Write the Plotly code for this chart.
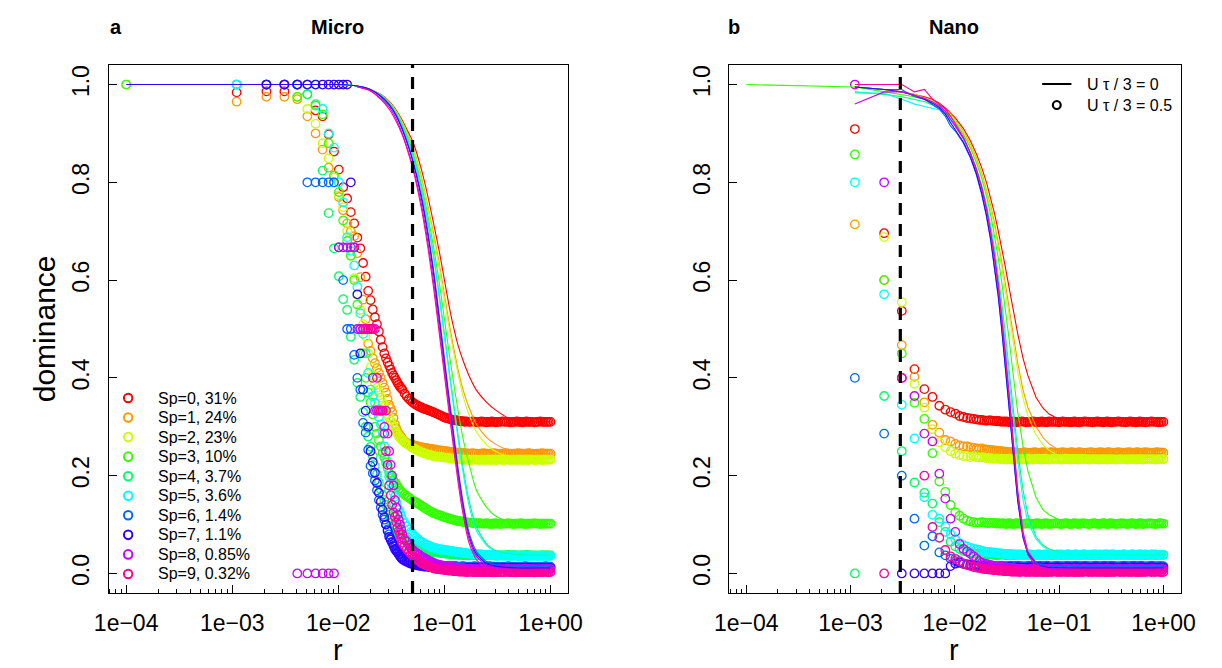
import plotly.graph_objects as go

W, H = 1222, 668

COLORS = ["#FF0000", "#FF9900", "#CCFF00", "#33FF00", "#00FF66",
          "#00FFFF", "#0066FF", "#3300FF", "#CC00FF", "#FF0099"]
LEGEND_LABELS = ["Sp=0, 31%", "Sp=1, 24%", "Sp=2, 23%", "Sp=3, 10%", "Sp=4, 3.7%",
                 "Sp=5, 3.6%", "Sp=6, 1.4%", "Sp=7, 1.1%", "Sp=8, 0.85%", "Sp=9, 0.32%"]
XTICK_VALS = [1e-4, 1e-3, 1e-2, 1e-1, 1.0]
XTICK_TEXT = ["1e\u221204", "1e\u221203", "1e\u221202", "1e\u221201", "1e+00"]
YTICK_VALS = [0.0, 0.2, 0.4, 0.6, 0.8, 1.0]
YTICK_TEXT = ["0.0", "0.2", "0.4", "0.6", "0.8", "1.0"]
THRESH_MICRO = 0.05
THRESH_NANO = 0.003

# r values of the U*tau/3 = 0.5 runs (circles), 132 values
R_POINTS = [0.0001, 0.0011, 0.0021, 0.0031, 0.0041, 0.0051, 0.0061, 0.0071, 0.0081, 0.0091,
            0.0101, 0.0111, 0.0121, 0.0131, 0.0141, 0.0151, 0.0161, 0.0171, 0.0181, 0.0191,
            0.0201, 0.0211, 0.0221, 0.0231, 0.0241, 0.0251, 0.0261, 0.0271, 0.0281, 0.0291,
            0.0301, 0.0311, 0.0321, 0.0331, 0.0341, 0.0351, 0.0361, 0.0371, 0.0381, 0.0391,
            0.0401, 0.0421, 0.0441, 0.0461, 0.0481, 0.0501, 0.0521, 0.0541, 0.0561, 0.0581,
            0.0601, 0.0621, 0.0641, 0.0661, 0.0681, 0.0701, 0.0721, 0.0741, 0.0761, 0.0781,
            0.0801, 0.0841, 0.0881, 0.0921, 0.0961, 0.1001, 0.1041, 0.1081, 0.1121, 0.1161,
            0.1201, 0.1241, 0.1281, 0.1321, 0.1361, 0.1401, 0.1441, 0.1481, 0.1521, 0.1561,
            0.1601, 0.1681, 0.1761, 0.1841, 0.1921, 0.2001, 0.2081, 0.2161, 0.2241, 0.2321,
            0.2401, 0.2481, 0.2561, 0.2641, 0.2721, 0.2801, 0.2881, 0.2961, 0.3041, 0.3121,
            0.3201, 0.3361, 0.3521, 0.3681, 0.3841, 0.4001, 0.4161, 0.4321, 0.4481, 0.4641,
            0.4801, 0.4961, 0.5121, 0.5281, 0.5441, 0.5601, 0.5761, 0.5921, 0.6081, 0.6241,
            0.6401, 0.6721, 0.7041, 0.7361, 0.7681, 0.8001, 0.8321, 0.8641, 0.8961, 0.9281,
            0.9601, 0.9991]

# ---------------- Micro, circles (U tau/3 = 0.5) ----------------
MICRO_PTS_SP0 = [None, 0.984, 0.986, 0.986, 1.0, 1.0, 0.947, 0.935, 0.898, 0.863,
                 0.826, 0.79, 0.767, 0.739, 0.716, 0.687, 0.665, 0.635, 0.607, 0.578,
                 0.559, 0.54, 0.524, 0.51, 0.495, 0.478, 0.463, 0.45, 0.44, 0.432,
                 0.425, 0.417, 0.41, 0.405, 0.4, 0.395, 0.39, 0.386, 0.382, 0.379,
                 0.376, 0.368, 0.362, 0.357, 0.353, 0.35, 0.347, 0.345, 0.343, 0.341,
                 0.34, 0.338, 0.337, 0.336, 0.335, 0.334, 0.333, 0.332, 0.331, 0.33,
                 0.329, 0.327, 0.325, 0.323, 0.321, 0.319, 0.318, 0.317, 0.316, 0.315,
                 0.314, 0.314, 0.313, 0.313, 0.312, 0.312, 0.311, 0.311, 0.311, 0.31,
                 0.311, 0.31, 0.31, 0.311, 0.31, 0.309, 0.31, 0.31, 0.311, 0.31,
                 0.31, 0.309, 0.31, 0.31, 0.31, 0.311, 0.31, 0.31, 0.309, 0.31,
                 0.31, 0.31, 0.311, 0.31, 0.31, 0.31, 0.309, 0.31, 0.31, 0.31,
                 0.311, 0.31, 0.31, 0.31, 0.309, 0.31, 0.31, 0.311, 0.31, 0.31,
                 0.31, 0.31, 0.309, 0.31, 0.31, 0.311, 0.31, 0.31, 0.31, 0.31,
                 0.31, 0.31]
MICRO_PTS_SP1 = [None, 0.965, 0.975, 0.975, 0.97, 0.935, 0.9, 0.867, 0.83, 0.8,
                 0.77, 0.743, 0.716, 0.7, 0.69, 0.655, 0.606, 0.56, 0.52, 0.47,
                 0.455, 0.44, 0.43, 0.42, 0.41, 0.4, 0.39, 0.38, 0.37, 0.357,
                 0.345, 0.338, 0.33, 0.318, 0.305, 0.297, 0.29, 0.286, 0.283, 0.279,
                 0.275, 0.27, 0.267, 0.265, 0.264, 0.263, 0.262, 0.261, 0.26, 0.259,
                 0.258, 0.258, 0.257, 0.257, 0.256, 0.256, 0.255, 0.255, 0.254, 0.254,
                 0.253, 0.253, 0.252, 0.251, 0.251, 0.25, 0.25, 0.249, 0.249, 0.248,
                 0.248, 0.248, 0.247, 0.247, 0.247, 0.246, 0.246, 0.246, 0.246, 0.245,
                 0.246, 0.245, 0.245, 0.246, 0.245, 0.245, 0.244, 0.245, 0.245, 0.246,
                 0.245, 0.245, 0.245, 0.244, 0.245, 0.245, 0.246, 0.245, 0.245, 0.245,
                 0.244, 0.245, 0.245, 0.245, 0.246, 0.245, 0.245, 0.244, 0.245, 0.245,
                 0.245, 0.246, 0.245, 0.245, 0.245, 0.244, 0.245, 0.245, 0.245, 0.246,
                 0.245, 0.245, 0.244, 0.245, 0.245, 0.245, 0.246, 0.245, 0.245, 0.245,
                 0.245, 0.245]
MICRO_PTS_SP2 = [1.0, 1.0, 1.0, 1.0, 0.975, 0.95, 0.92, 0.88, 0.849, 0.81,
                 0.773, 0.749, 0.7, 0.65, 0.604, 0.57, 0.539, 0.51, 0.484, 0.45,
                 0.422, 0.405, 0.39, 0.38, 0.37, 0.36, 0.349, 0.341, 0.333, 0.326,
                 0.32, 0.312, 0.305, 0.3, 0.294, 0.289, 0.285, 0.281, 0.278, 0.275,
                 0.273, 0.268, 0.265, 0.262, 0.259, 0.257, 0.255, 0.253, 0.251, 0.25,
                 0.248, 0.247, 0.246, 0.245, 0.244, 0.243, 0.242, 0.242, 0.241, 0.24,
                 0.24, 0.239, 0.239, 0.238, 0.238, 0.237, 0.237, 0.236, 0.236, 0.235,
                 0.235, 0.235, 0.234, 0.234, 0.234, 0.234, 0.233, 0.233, 0.233, 0.233,
                 0.233, 0.233, 0.232, 0.233, 0.233, 0.233, 0.232, 0.233, 0.233, 0.233,
                 0.232, 0.233, 0.233, 0.233, 0.232, 0.233, 0.233, 0.233, 0.232, 0.233,
                 0.233, 0.233, 0.232, 0.233, 0.233, 0.233, 0.232, 0.233, 0.233, 0.233,
                 0.232, 0.233, 0.233, 0.233, 0.232, 0.233, 0.233, 0.233, 0.232, 0.233,
                 0.233, 0.233, 0.232, 0.233, 0.233, 0.233, 0.232, 0.233, 0.233, 0.233,
                 0.233, 0.233]
MICRO_PTS_SP3 = [1.0, 1.0, 1.0, 1.0, 0.975, 0.98, 0.957, 0.939, 0.88, 0.814,
                 0.78, 0.722, 0.68, 0.65, 0.6, 0.55, 0.5, 0.45, 0.4, 0.37,
                 0.35, 0.325, 0.3, 0.286, 0.273, 0.26, 0.247, 0.237, 0.227, 0.216,
                 0.206, 0.2, 0.195, 0.19, 0.186, 0.182, 0.178, 0.174, 0.17, 0.167,
                 0.165, 0.161, 0.158, 0.155, 0.152, 0.149, 0.147, 0.145, 0.143, 0.141,
                 0.139, 0.137, 0.135, 0.133, 0.131, 0.13, 0.128, 0.127, 0.125, 0.124,
                 0.123, 0.121, 0.12, 0.118, 0.117, 0.115, 0.114, 0.113, 0.112, 0.111,
                 0.11, 0.109, 0.108, 0.108, 0.107, 0.107, 0.106, 0.106, 0.105, 0.105,
                 0.105, 0.104, 0.104, 0.103, 0.103, 0.103, 0.102, 0.103, 0.102, 0.102,
                 0.102, 0.103, 0.102, 0.102, 0.101, 0.102, 0.102, 0.102, 0.103, 0.102,
                 0.102, 0.101, 0.102, 0.102, 0.102, 0.103, 0.102, 0.102, 0.101, 0.102,
                 0.102, 0.102, 0.102, 0.103, 0.102, 0.102, 0.101, 0.102, 0.102, 0.102,
                 0.102, 0.102, 0.103, 0.102, 0.102, 0.101, 0.102, 0.102, 0.102, 0.102,
                 0.102, 0.102]
MICRO_PTS_SP4 = [None, 1.0, 1.0, 1.0, 1.0, 0.98, 0.96, 0.824, 0.737, 0.665,
                 0.608, 0.561, 0.539, 0.484, 0.437, 0.39, 0.361, 0.33, 0.3, 0.28,
                 0.259, 0.24, 0.22, 0.203, 0.186, 0.172, 0.16, 0.15, 0.14, 0.13,
                 0.12, 0.112, 0.105, 0.1, 0.095, 0.09, 0.085, 0.081, 0.078, 0.075,
                 0.072, 0.068, 0.065, 0.062, 0.06, 0.058, 0.056, 0.054, 0.052, 0.051,
                 0.05, 0.049, 0.048, 0.047, 0.046, 0.046, 0.045, 0.045, 0.044, 0.044,
                 0.043, 0.043, 0.042, 0.042, 0.041, 0.041, 0.04, 0.04, 0.04, 0.039,
                 0.039, 0.039, 0.039, 0.038, 0.038, 0.038, 0.038, 0.038, 0.037, 0.038,
                 0.037, 0.037, 0.038, 0.037, 0.037, 0.037, 0.037, 0.037, 0.036, 0.037,
                 0.037, 0.037, 0.037, 0.038, 0.037, 0.037, 0.037, 0.037, 0.036, 0.037,
                 0.037, 0.037, 0.037, 0.037, 0.037, 0.038, 0.037, 0.037, 0.037, 0.037,
                 0.037, 0.036, 0.037, 0.037, 0.037, 0.037, 0.037, 0.038, 0.037, 0.037,
                 0.037, 0.037, 0.037, 0.037, 0.036, 0.037, 0.037, 0.037, 0.037, 0.037,
                 0.037, 0.037]
MICRO_PTS_SP5 = [None, 1.0, 1.0, 1.0, 1.0, 1.0, 1.0, 0.95, 0.9, 0.871,
                 0.8, 0.759, 0.688, 0.66, 0.63, 0.586, 0.532, 0.49, 0.45, 0.41,
                 0.376, 0.362, 0.349, 0.335, 0.32, 0.305, 0.288, 0.26, 0.233, 0.215,
                 0.198, 0.186, 0.175, 0.166, 0.157, 0.146, 0.135, 0.13, 0.124, 0.117,
                 0.11, 0.103, 0.096, 0.09, 0.085, 0.08, 0.076, 0.073, 0.07, 0.067,
                 0.065, 0.063, 0.061, 0.06, 0.058, 0.057, 0.056, 0.055, 0.054, 0.053,
                 0.052, 0.051, 0.05, 0.049, 0.049, 0.048, 0.047, 0.047, 0.046, 0.046,
                 0.045, 0.045, 0.044, 0.044, 0.043, 0.043, 0.043, 0.042, 0.042, 0.042,
                 0.041, 0.041, 0.04, 0.04, 0.04, 0.039, 0.039, 0.039, 0.039, 0.038,
                 0.038, 0.038, 0.038, 0.038, 0.037, 0.037, 0.037, 0.037, 0.037, 0.037,
                 0.036, 0.037, 0.036, 0.036, 0.037, 0.036, 0.036, 0.036, 0.036, 0.037,
                 0.036, 0.036, 0.036, 0.036, 0.036, 0.036, 0.036, 0.037, 0.036, 0.036,
                 0.036, 0.036, 0.036, 0.036, 0.036, 0.036, 0.036, 0.036, 0.036, 0.036,
                 0.036, 0.036]
MICRO_PTS_SP6 = [None, None, 1.0, 1.0, 1.0, 0.8, 0.8, 0.8, 0.8, 0.8,
                 0.667, 0.6, 0.5, 0.5, 0.447, 0.4, 0.376, 0.308, 0.288, 0.253,
                 0.22, 0.205, 0.19, 0.17, 0.15, 0.135, 0.12, 0.11, 0.1, 0.09,
                 0.08, 0.072, 0.065, 0.06, 0.055, 0.05, 0.045, 0.041, 0.038, 0.035,
                 0.033, 0.03, 0.028, 0.026, 0.025, 0.023, 0.022, 0.021, 0.02, 0.02,
                 0.019, 0.019, 0.018, 0.018, 0.018, 0.017, 0.017, 0.017, 0.017, 0.016,
                 0.016, 0.016, 0.016, 0.016, 0.015, 0.015, 0.015, 0.015, 0.015, 0.015,
                 0.015, 0.015, 0.015, 0.014, 0.014, 0.014, 0.014, 0.015, 0.014, 0.014,
                 0.014, 0.014, 0.014, 0.014, 0.015, 0.014, 0.014, 0.014, 0.013, 0.014,
                 0.014, 0.014, 0.014, 0.015, 0.014, 0.014, 0.014, 0.014, 0.013, 0.014,
                 0.014, 0.014, 0.014, 0.014, 0.014, 0.015, 0.014, 0.014, 0.014, 0.014,
                 0.013, 0.014, 0.014, 0.014, 0.014, 0.014, 0.015, 0.014, 0.014, 0.014,
                 0.014, 0.014, 0.014, 0.013, 0.014, 0.014, 0.014, 0.014, 0.015, 0.014,
                 0.014, 0.014]
MICRO_PTS_SP7 = [None, None, 1.0, 1.0, 1.0, 1.0, 1.0, 1.0, 1.0, 1.0,
                 1.0, 1.0, 1.0, 0.8, 0.667, 0.571, 0.45, 0.376, 0.333, 0.3,
                 0.25, 0.228, 0.206, 0.185, 0.165, 0.147, 0.13, 0.115, 0.1, 0.087,
                 0.075, 0.069, 0.063, 0.056, 0.05, 0.046, 0.043, 0.039, 0.035, 0.032,
                 0.029, 0.026, 0.024, 0.022, 0.02, 0.019, 0.018, 0.017, 0.016, 0.016,
                 0.015, 0.015, 0.014, 0.014, 0.014, 0.014, 0.013, 0.013, 0.013, 0.013,
                 0.013, 0.013, 0.012, 0.012, 0.012, 0.012, 0.012, 0.012, 0.012, 0.012,
                 0.012, 0.011, 0.011, 0.011, 0.011, 0.011, 0.011, 0.011, 0.011, 0.011,
                 0.011, 0.011, 0.011, 0.012, 0.011, 0.011, 0.011, 0.011, 0.01, 0.011,
                 0.011, 0.011, 0.011, 0.011, 0.011, 0.012, 0.011, 0.011, 0.011, 0.011,
                 0.01, 0.011, 0.011, 0.011, 0.011, 0.011, 0.012, 0.011, 0.011, 0.011,
                 0.011, 0.011, 0.01, 0.011, 0.011, 0.011, 0.011, 0.012, 0.011, 0.011,
                 0.011, 0.011, 0.011, 0.011, 0.01, 0.011, 0.011, 0.011, 0.011, 0.011,
                 0.011, 0.011]
MICRO_PTS_SP8 = [None, None, None, None, 0.0, 0.0, 0.0, 0.0, 0.0, 0.0,
                 0.667, 0.667, 0.667, 0.667, 0.667, 0.5, 0.5, 0.5, 0.5, 0.5,
                 0.5, 0.4, 0.333, 0.333, 0.333, 0.333, 0.333, 0.3, 0.333, 0.286,
                 0.25, 0.222, 0.2, 0.18, 0.15, 0.135, 0.12, 0.11, 0.1, 0.09,
                 0.08, 0.07, 0.065, 0.058, 0.053, 0.048, 0.045, 0.042, 0.04, 0.038,
                 0.035, 0.033, 0.032, 0.03, 0.028, 0.027, 0.025, 0.024, 0.023, 0.022,
                 0.021, 0.019, 0.018, 0.017, 0.016, 0.015, 0.015, 0.014, 0.014, 0.013,
                 0.013, 0.012, 0.012, 0.012, 0.011, 0.011, 0.011, 0.011, 0.01, 0.01,
                 0.01, 0.01, 0.01, 0.009, 0.009, 0.009, 0.009, 0.009, 0.009, 0.009,
                 0.009, 0.009, 0.009, 0.01, 0.009, 0.009, 0.009, 0.009, 0.008, 0.009,
                 0.009, 0.009, 0.009, 0.009, 0.009, 0.01, 0.009, 0.009, 0.009, 0.009,
                 0.008, 0.009, 0.009, 0.009, 0.009, 0.009, 0.01, 0.009, 0.009, 0.009,
                 0.009, 0.009, 0.009, 0.008, 0.009, 0.009, 0.009, 0.009, 0.01, 0.009,
                 0.009, 0.009]
MICRO_PTS_SP9 = [None, None, None, None, None, None, None, None, None, None,
                 None, None, None, None, None, None, None, 0.5, 0.5, 0.5,
                 0.5, 0.5, 0.5, 0.4, 0.333, 0.333, 0.333, 0.286, 0.25, 0.222,
                 0.18, 0.16, 0.14, 0.125, 0.116, 0.105, 0.094, 0.087, 0.08, 0.071,
                 0.063, 0.056, 0.05, 0.045, 0.04, 0.036, 0.033, 0.03, 0.027, 0.025,
                 0.022, 0.02, 0.019, 0.018, 0.016, 0.015, 0.014, 0.013, 0.012, 0.011,
                 0.01, 0.009, 0.009, 0.008, 0.008, 0.007, 0.007, 0.006, 0.006, 0.006,
                 0.005, 0.005, 0.005, 0.005, 0.004, 0.004, 0.004, 0.004, 0.004, 0.004,
                 0.003, 0.003, 0.004, 0.003, 0.003, 0.003, 0.003, 0.003, 0.003, 0.003,
                 0.003, 0.003, 0.004, 0.003, 0.003, 0.003, 0.002, 0.003, 0.003, 0.003,
                 0.003, 0.003, 0.003, 0.003, 0.004, 0.003, 0.003, 0.003, 0.003, 0.002,
                 0.003, 0.003, 0.003, 0.003, 0.003, 0.003, 0.004, 0.003, 0.003, 0.003,
                 0.003, 0.003, 0.002, 0.003, 0.003, 0.003, 0.003, 0.003, 0.004, 0.003,
                 0.003, 0.003]

# ---------------- Nano, circles (U tau/3 = 0.5) ----------------
NANO_PTS_SP0 = [None, 0.909, 0.696, 0.537, 0.418, 0.377, 0.361, 0.343, 0.335, 0.33,
                0.327, 0.322, 0.32, 0.318, 0.317, 0.316, 0.315, 0.314, 0.314, 0.313,
                0.312, 0.313, 0.313, 0.312, 0.312, 0.311, 0.312, 0.311, 0.31, 0.311,
                0.31, 0.311, 0.31, 0.31, 0.309, 0.31, 0.311, 0.31, 0.31, 0.309,
                0.31, 0.31, 0.311, 0.31, 0.309, 0.31, 0.31, 0.31, 0.311, 0.31,
                0.31, 0.309, 0.31, 0.31, 0.311, 0.31, 0.31, 0.31, 0.309, 0.31,
                0.311, 0.31, 0.31, 0.31, 0.31, 0.309, 0.31, 0.311, 0.31, 0.31,
                0.31, 0.31, 0.309, 0.31, 0.31, 0.311, 0.31, 0.31, 0.31, 0.309,
                0.31, 0.31, 0.311, 0.31, 0.31, 0.31, 0.309, 0.31, 0.31, 0.311,
                0.31, 0.31, 0.31, 0.309, 0.31, 0.31, 0.311, 0.31, 0.31, 0.31,
                0.309, 0.31, 0.31, 0.311, 0.31, 0.31, 0.31, 0.309, 0.31, 0.31,
                0.311, 0.31, 0.31, 0.31, 0.309, 0.31, 0.31, 0.311, 0.31, 0.31,
                0.31, 0.309, 0.31, 0.31, 0.311, 0.31, 0.31, 0.31, 0.309, 0.31,
                0.31, 0.31]
NANO_PTS_SP1 = [None, 0.714, 0.6, 0.467, 0.402, 0.35, 0.304, 0.288, 0.273, 0.27,
                0.265, 0.262, 0.26, 0.26, 0.258, 0.257, 0.256, 0.255, 0.256, 0.254,
                0.253, 0.253, 0.252, 0.252, 0.251, 0.251, 0.25, 0.25, 0.25, 0.249,
                0.249, 0.249, 0.248, 0.248, 0.248, 0.248, 0.247, 0.248, 0.247, 0.247,
                0.247, 0.246, 0.247, 0.248, 0.247, 0.247, 0.246, 0.247, 0.247, 0.248,
                0.247, 0.247, 0.246, 0.247, 0.247, 0.248, 0.247, 0.247, 0.246, 0.247,
                0.247, 0.248, 0.247, 0.247, 0.246, 0.247, 0.247, 0.248, 0.247, 0.247,
                0.246, 0.247, 0.247, 0.248, 0.247, 0.247, 0.246, 0.247, 0.247, 0.248,
                0.247, 0.247, 0.246, 0.247, 0.247, 0.248, 0.247, 0.247, 0.246, 0.247,
                0.247, 0.248, 0.247, 0.247, 0.246, 0.247, 0.247, 0.248, 0.247, 0.247,
                0.246, 0.247, 0.247, 0.248, 0.247, 0.247, 0.246, 0.247, 0.247, 0.248,
                0.247, 0.247, 0.246, 0.247, 0.247, 0.248, 0.247, 0.247, 0.246, 0.247,
                0.247, 0.248, 0.247, 0.247, 0.246, 0.247, 0.247, 0.248, 0.247, 0.247,
                0.247, 0.247]
NANO_PTS_SP2 = [None, None, 0.688, 0.555, 0.388, 0.339, 0.295, 0.268, 0.258, 0.25,
                0.245, 0.242, 0.24, 0.24, 0.238, 0.24, 0.238, 0.237, 0.238, 0.237,
                0.236, 0.236, 0.236, 0.235, 0.235, 0.235, 0.235, 0.234, 0.235, 0.234,
                0.234, 0.233, 0.234, 0.235, 0.234, 0.234, 0.233, 0.234, 0.234, 0.235,
                0.234, 0.234, 0.233, 0.234, 0.234, 0.235, 0.234, 0.234, 0.233, 0.234,
                0.234, 0.235, 0.234, 0.234, 0.233, 0.234, 0.234, 0.235, 0.234, 0.234,
                0.233, 0.234, 0.234, 0.235, 0.234, 0.234, 0.233, 0.234, 0.234, 0.235,
                0.234, 0.234, 0.233, 0.234, 0.234, 0.235, 0.234, 0.234, 0.233, 0.234,
                0.234, 0.235, 0.234, 0.234, 0.233, 0.234, 0.234, 0.235, 0.234, 0.234,
                0.233, 0.234, 0.234, 0.235, 0.234, 0.234, 0.233, 0.234, 0.234, 0.235,
                0.234, 0.234, 0.233, 0.234, 0.234, 0.235, 0.234, 0.234, 0.233, 0.234,
                0.234, 0.235, 0.234, 0.234, 0.233, 0.234, 0.234, 0.235, 0.234, 0.234,
                0.233, 0.234, 0.234, 0.235, 0.234, 0.234, 0.233, 0.234, 0.234, 0.235,
                0.234, 0.234]
NANO_PTS_SP3 = [None, 0.857, 0.6, 0.45, 0.349, 0.316, 0.246, 0.188, 0.167, 0.14,
                0.125, 0.118, 0.112, 0.108, 0.106, 0.105, 0.104, 0.104, 0.105, 0.104,
                0.103, 0.103, 0.104, 0.103, 0.103, 0.102, 0.103, 0.102, 0.102, 0.103,
                0.102, 0.101, 0.102, 0.103, 0.102, 0.102, 0.101, 0.102, 0.102, 0.103,
                0.102, 0.102, 0.101, 0.102, 0.102, 0.103, 0.102, 0.102, 0.101, 0.102,
                0.102, 0.103, 0.102, 0.102, 0.101, 0.102, 0.102, 0.103, 0.102, 0.102,
                0.101, 0.102, 0.102, 0.103, 0.102, 0.102, 0.101, 0.102, 0.102, 0.103,
                0.102, 0.102, 0.101, 0.102, 0.102, 0.103, 0.102, 0.102, 0.101, 0.102,
                0.102, 0.103, 0.102, 0.102, 0.101, 0.102, 0.102, 0.103, 0.102, 0.102,
                0.101, 0.102, 0.102, 0.103, 0.102, 0.102, 0.101, 0.102, 0.102, 0.103,
                0.102, 0.102, 0.101, 0.102, 0.102, 0.103, 0.102, 0.102, 0.101, 0.102,
                0.102, 0.103, 0.102, 0.102, 0.101, 0.102, 0.102, 0.103, 0.102, 0.102,
                0.101, 0.102, 0.102, 0.103, 0.102, 0.102, 0.101, 0.102, 0.102, 0.103,
                0.102, 0.102]
NANO_PTS_SP4 = [None, 0.0, 0.363, 0.25, 0.186, 0.165, 0.143, 0.105, 0.085, 0.065,
                0.055, 0.05, 0.046, 0.044, 0.042, 0.041, 0.04, 0.04, 0.039, 0.039,
                0.038, 0.038, 0.039, 0.038, 0.038, 0.037, 0.038, 0.038, 0.039, 0.038,
                0.038, 0.037, 0.038, 0.038, 0.039, 0.038, 0.038, 0.037, 0.038, 0.038,
                0.039, 0.038, 0.038, 0.037, 0.038, 0.038, 0.039, 0.038, 0.038, 0.037,
                0.038, 0.038, 0.039, 0.038, 0.038, 0.037, 0.038, 0.038, 0.039, 0.038,
                0.038, 0.037, 0.038, 0.038, 0.039, 0.038, 0.038, 0.037, 0.038, 0.038,
                0.039, 0.038, 0.038, 0.037, 0.038, 0.038, 0.039, 0.038, 0.038, 0.037,
                0.038, 0.038, 0.039, 0.038, 0.038, 0.037, 0.038, 0.038, 0.039, 0.038,
                0.038, 0.037, 0.038, 0.038, 0.039, 0.038, 0.038, 0.037, 0.038, 0.038,
                0.039, 0.038, 0.038, 0.037, 0.038, 0.038, 0.039, 0.038, 0.038, 0.037,
                0.038, 0.038, 0.039, 0.038, 0.038, 0.037, 0.038, 0.038, 0.039, 0.038,
                0.038, 0.037, 0.038, 0.038, 0.039, 0.038, 0.038, 0.037, 0.038, 0.038,
                0.038, 0.038]
NANO_PTS_SP5 = [None, 0.8, 0.571, 0.345, 0.276, 0.156, 0.12, 0.112, 0.096, 0.08,
                0.07, 0.062, 0.058, 0.055, 0.052, 0.05, 0.049, 0.048, 0.046, 0.045,
                0.044, 0.044, 0.043, 0.043, 0.042, 0.042, 0.041, 0.041, 0.041, 0.04,
                0.04, 0.04, 0.04, 0.039, 0.039, 0.039, 0.039, 0.039, 0.038, 0.038,
                0.038, 0.039, 0.038, 0.037, 0.038, 0.038, 0.039, 0.038, 0.037, 0.038,
                0.038, 0.039, 0.038, 0.037, 0.038, 0.038, 0.039, 0.038, 0.037, 0.038,
                0.038, 0.039, 0.038, 0.037, 0.038, 0.038, 0.039, 0.038, 0.037, 0.038,
                0.038, 0.039, 0.038, 0.037, 0.038, 0.038, 0.039, 0.038, 0.037, 0.038,
                0.038, 0.039, 0.038, 0.037, 0.038, 0.038, 0.039, 0.038, 0.037, 0.038,
                0.038, 0.039, 0.038, 0.037, 0.038, 0.038, 0.039, 0.038, 0.037, 0.038,
                0.038, 0.039, 0.038, 0.037, 0.038, 0.038, 0.039, 0.038, 0.037, 0.038,
                0.038, 0.039, 0.038, 0.037, 0.038, 0.038, 0.039, 0.038, 0.037, 0.038,
                0.038, 0.039, 0.038, 0.037, 0.038, 0.038, 0.039, 0.038, 0.037, 0.038,
                0.038, 0.038]
NANO_PTS_SP6 = [None, 0.4, 0.286, 0.2, 0.112, 0.057, 0.076, 0.043, 0.037, 0.03,
                0.025, 0.022, 0.02, 0.019, 0.018, 0.017, 0.017, 0.016, 0.016, 0.016,
                0.015, 0.015, 0.016, 0.015, 0.015, 0.014, 0.015, 0.015, 0.016, 0.015,
                0.015, 0.014, 0.015, 0.015, 0.016, 0.015, 0.015, 0.014, 0.015, 0.015,
                0.016, 0.015, 0.015, 0.014, 0.015, 0.015, 0.016, 0.015, 0.015, 0.014,
                0.015, 0.015, 0.016, 0.015, 0.015, 0.014, 0.015, 0.015, 0.016, 0.015,
                0.015, 0.014, 0.015, 0.015, 0.016, 0.015, 0.015, 0.014, 0.015, 0.015,
                0.016, 0.015, 0.015, 0.014, 0.015, 0.015, 0.016, 0.015, 0.015, 0.014,
                0.015, 0.015, 0.016, 0.015, 0.015, 0.014, 0.015, 0.015, 0.016, 0.015,
                0.015, 0.014, 0.015, 0.015, 0.016, 0.015, 0.015, 0.014, 0.015, 0.015,
                0.016, 0.015, 0.015, 0.014, 0.015, 0.015, 0.016, 0.015, 0.015, 0.014,
                0.015, 0.015, 0.016, 0.015, 0.015, 0.014, 0.015, 0.015, 0.016, 0.015,
                0.015, 0.014, 0.015, 0.015, 0.016, 0.015, 0.015, 0.014, 0.015, 0.015,
                0.015, 0.015]
NANO_PTS_SP7 = [None, None, None, 0.0, 0.0, 0.0, 0.0, 0.0, 0.0, 0.015,
                0.02, 0.022, 0.02, 0.018, 0.017, 0.016, 0.015, 0.014, 0.014, 0.013,
                0.012, 0.012, 0.013, 0.012, 0.012, 0.011, 0.012, 0.012, 0.013, 0.012,
                0.012, 0.011, 0.012, 0.012, 0.013, 0.012, 0.012, 0.011, 0.012, 0.012,
                0.013, 0.012, 0.012, 0.011, 0.012, 0.012, 0.013, 0.012, 0.012, 0.011,
                0.012, 0.012, 0.013, 0.012, 0.012, 0.011, 0.012, 0.012, 0.013, 0.012,
                0.012, 0.011, 0.012, 0.012, 0.013, 0.012, 0.012, 0.011, 0.012, 0.012,
                0.013, 0.012, 0.012, 0.011, 0.012, 0.012, 0.013, 0.012, 0.012, 0.011,
                0.012, 0.012, 0.013, 0.012, 0.012, 0.011, 0.012, 0.012, 0.013, 0.012,
                0.012, 0.011, 0.012, 0.012, 0.013, 0.012, 0.012, 0.011, 0.012, 0.012,
                0.013, 0.012, 0.012, 0.011, 0.012, 0.012, 0.013, 0.012, 0.012, 0.011,
                0.012, 0.012, 0.013, 0.012, 0.012, 0.011, 0.012, 0.012, 0.013, 0.012,
                0.012, 0.011, 0.012, 0.012, 0.013, 0.012, 0.012, 0.011, 0.012, 0.012,
                0.012, 0.012]
NANO_PTS_SP8 = [None, 1.0, 0.8, 0.4, 0.363, 0.286, 0.27, 0.204, 0.153, 0.112,
                0.085, 0.06, 0.05, 0.045, 0.04, 0.035, 0.03, 0.025, 0.022, 0.02,
                0.019, 0.018, 0.017, 0.016, 0.015, 0.015, 0.014, 0.014, 0.013, 0.013,
                0.012, 0.012, 0.012, 0.011, 0.011, 0.011, 0.011, 0.01, 0.01, 0.01,
                0.009, 0.009, 0.01, 0.009, 0.008, 0.009, 0.009, 0.009, 0.01, 0.009,
                0.009, 0.008, 0.009, 0.009, 0.01, 0.009, 0.009, 0.009, 0.008, 0.009,
                0.009, 0.01, 0.009, 0.009, 0.009, 0.008, 0.009, 0.009, 0.01, 0.009,
                0.009, 0.009, 0.008, 0.009, 0.009, 0.01, 0.009, 0.009, 0.009, 0.008,
                0.009, 0.009, 0.01, 0.009, 0.009, 0.009, 0.008, 0.009, 0.009, 0.01,
                0.009, 0.009, 0.009, 0.008, 0.009, 0.009, 0.01, 0.009, 0.009, 0.009,
                0.008, 0.009, 0.009, 0.01, 0.009, 0.009, 0.009, 0.008, 0.009, 0.009,
                0.01, 0.009, 0.009, 0.009, 0.008, 0.009, 0.009, 0.01, 0.009, 0.009,
                0.009, 0.008, 0.009, 0.009, 0.01, 0.009, 0.009, 0.009, 0.008, 0.009,
                0.009, 0.009]
NANO_PTS_SP9 = [None, None, 0.0, 0.4, None, 0.2, 0.095, 0.073, 0.048, 0.035,
                0.03, 0.025, 0.02, 0.017, 0.015, 0.013, 0.012, 0.011, 0.01, 0.009,
                0.009, 0.008, 0.008, 0.007, 0.007, 0.007, 0.006, 0.006, 0.006, 0.005,
                0.005, 0.005, 0.005, 0.005, 0.004, 0.004, 0.004, 0.004, 0.004, 0.004,
                0.004, 0.003, 0.004, 0.004, 0.003, 0.004, 0.003, 0.004, 0.004, 0.003,
                0.004, 0.003, 0.004, 0.004, 0.003, 0.004, 0.003, 0.004, 0.004, 0.003,
                0.004, 0.003, 0.004, 0.004, 0.003, 0.004, 0.003, 0.004, 0.004, 0.003,
                0.004, 0.003, 0.004, 0.004, 0.003, 0.004, 0.003, 0.004, 0.004, 0.003,
                0.004, 0.003, 0.004, 0.004, 0.003, 0.004, 0.003, 0.004, 0.004, 0.003,
                0.004, 0.003, 0.004, 0.004, 0.003, 0.004, 0.003, 0.004, 0.004, 0.003,
                0.004, 0.003, 0.004, 0.004, 0.003, 0.004, 0.003, 0.004, 0.004, 0.003,
                0.004, 0.003, 0.004, 0.004, 0.003, 0.004, 0.003, 0.004, 0.004, 0.003,
                0.004, 0.003, 0.004, 0.004, 0.003, 0.004, 0.003, 0.004, 0.004, 0.003,
                0.004, 0.003]

# ---------------- Micro, lines (U tau/3 = 0) ----------------
LINE_R_MICRO = [0.0001, 0.001, 0.005, 0.01, 0.015, 0.02, 0.025, 0.03, 0.035, 0.04,
                0.045, 0.05, 0.06, 0.07, 0.08, 0.09, 0.1, 0.11, 0.12, 0.135,
                0.15, 0.17, 0.2, 0.25, 0.3, 0.4, 0.5, 0.7, 1.0]
MICRO_LINE_SP0 = [None, 1.0, 1.0, 1.0, 0.997, 0.99, 0.98, 0.966, 0.948, 0.927,
                  0.905, 0.885, 0.83, 0.77, 0.71, 0.655, 0.6, 0.55, 0.51, 0.465,
                  0.435, 0.405, 0.375, 0.35, 0.335, 0.318, 0.312, 0.31, 0.31]
MICRO_LINE_SP1 = [None, 1.0, 1.0, 1.0, 0.997, 0.99, 0.979, 0.965, 0.946, 0.924,
                  0.9, 0.875, 0.815, 0.75, 0.69, 0.63, 0.57, 0.515, 0.47, 0.415,
                  0.375, 0.34, 0.305, 0.278, 0.265, 0.252, 0.248, 0.245, 0.245]
MICRO_LINE_SP2 = [None, 1.0, 1.0, 1.0, 0.997, 0.99, 0.979, 0.964, 0.945, 0.922,
                  0.897, 0.872, 0.81, 0.745, 0.683, 0.622, 0.56, 0.505, 0.46, 0.405,
                  0.362, 0.325, 0.29, 0.263, 0.25, 0.239, 0.235, 0.233, 0.233]
MICRO_LINE_SP3 = [None, 1.0, 1.0, 1.0, 0.997, 0.99, 0.978, 0.963, 0.943, 0.919,
                  0.893, 0.865, 0.8, 0.73, 0.66, 0.59, 0.52, 0.455, 0.4, 0.33,
                  0.275, 0.225, 0.17, 0.135, 0.118, 0.106, 0.103, 0.102, 0.102]
MICRO_LINE_SP4 = [None, 1.0, 1.0, 1.0, 0.997, 0.99, 0.978, 0.962, 0.941, 0.916,
                  0.889, 0.86, 0.792, 0.718, 0.643, 0.565, 0.49, 0.42, 0.36, 0.28,
                  0.215, 0.15, 0.095, 0.06, 0.047, 0.04, 0.038, 0.037, 0.037]
MICRO_LINE_SP5 = [None, 1.0, 1.0, 1.0, 0.997, 0.99, 0.977, 0.961, 0.94, 0.914,
                  0.887, 0.858, 0.79, 0.715, 0.64, 0.56, 0.485, 0.415, 0.352, 0.272,
                  0.205, 0.14, 0.088, 0.057, 0.046, 0.039, 0.037, 0.036, 0.036]
MICRO_LINE_SP6 = [None, 1.0, 1.0, 1.0, 0.997, 0.99, 0.977, 0.96, 0.938, 0.91,
                  0.88, 0.848, 0.778, 0.697, 0.612, 0.522, 0.44, 0.365, 0.3, 0.212,
                  0.145, 0.085, 0.045, 0.024, 0.018, 0.015, 0.014, 0.014, 0.014]
MICRO_LINE_SP7 = [1.0, 1.0, 1.0, 1.0, 0.997, 0.99, 0.976, 0.959, 0.936, 0.908,
                  0.877, 0.845, 0.772, 0.69, 0.603, 0.512, 0.43, 0.355, 0.29, 0.203,
                  0.137, 0.078, 0.04, 0.02, 0.015, 0.012, 0.011, 0.011, 0.011]
MICRO_LINE_SP8 = [None, None, None, None, 0.995, 0.988, 0.972, 0.955, 0.93, 0.9,
                  0.868, 0.835, 0.76, 0.675, 0.588, 0.498, 0.418, 0.345, 0.28, 0.195,
                  0.13, 0.072, 0.035, 0.016, 0.011, 0.009, 0.0085, 0.0085, 0.0085]
MICRO_LINE_SP9 = [None, None, None, None, 0.996, 0.987, 0.97, 0.95, 0.925, 0.897,
                  0.864, 0.83, 0.752, 0.665, 0.575, 0.485, 0.405, 0.332, 0.268, 0.183,
                  0.12, 0.063, 0.028, 0.01, 0.006, 0.004, 0.0035, 0.0032, 0.0032]

# ---------------- Nano, lines (U tau/3 = 0) ----------------
LINE_R_NANO = [0.0001, 0.0011, 0.0021, 0.0031, 0.0041, 0.0051, 0.0061, 0.0071, 0.0081, 0.0091,
               0.0101, 0.0121, 0.0141, 0.0161, 0.0181, 0.0201, 0.0221, 0.0241, 0.0261, 0.0281,
               0.0301, 0.0331, 0.0361, 0.0401, 0.0451, 0.0501, 0.0601, 0.0701, 0.0801, 0.1001,
               0.1201, 0.1501, 0.2001, 0.3001, 0.5001, 0.9991]
NANO_LINE_SP0 = [None, 0.995, 0.99, 0.985, 0.98, 0.975, 0.97, 0.962, 0.952, 0.942,
                 0.932, 0.91, 0.885, 0.858, 0.83, 0.8, 0.768, 0.735, 0.7, 0.667,
                 0.633, 0.585, 0.54, 0.49, 0.44, 0.405, 0.36, 0.338, 0.326, 0.315,
                 0.312, 0.31, 0.31, 0.31, 0.31, 0.31]
NANO_LINE_SP1 = [None, 0.995, 0.99, 0.985, 0.98, 0.973, 0.967, 0.96, 0.95, 0.94,
                 0.928, 0.905, 0.878, 0.85, 0.82, 0.787, 0.752, 0.715, 0.677, 0.638,
                 0.6, 0.545, 0.49, 0.43, 0.375, 0.34, 0.3, 0.278, 0.265, 0.252,
                 0.248, 0.246, 0.245, 0.245, 0.245, 0.245]
NANO_LINE_SP2 = [None, 0.995, 0.99, 0.985, 0.978, 0.972, 0.966, 0.958, 0.948, 0.938,
                 0.926, 0.902, 0.875, 0.846, 0.815, 0.781, 0.745, 0.707, 0.668, 0.628,
                 0.588, 0.53, 0.475, 0.413, 0.358, 0.323, 0.283, 0.263, 0.252, 0.24,
                 0.236, 0.234, 0.233, 0.233, 0.233, 0.233]
NANO_LINE_SP3 = [1.0, 0.995, 0.985, 0.98, 0.975, 0.97, 0.963, 0.955, 0.945, 0.935,
                 0.923, 0.898, 0.87, 0.84, 0.808, 0.772, 0.733, 0.69, 0.645, 0.598,
                 0.55, 0.48, 0.41, 0.33, 0.26, 0.21, 0.155, 0.13, 0.12, 0.11,
                 0.106, 0.103, 0.102, 0.101, 0.1, 0.1]
NANO_LINE_SP4 = [None, 0.985, 0.98, 0.975, 0.97, 0.965, 0.958, 0.95, 0.94, 0.928,
                 0.916, 0.89, 0.86, 0.828, 0.793, 0.754, 0.71, 0.662, 0.61, 0.555,
                 0.5, 0.42, 0.34, 0.25, 0.17, 0.12, 0.075, 0.058, 0.05, 0.043,
                 0.04, 0.038, 0.037, 0.037, 0.037, 0.037]
NANO_LINE_SP5 = [None, 0.983, 0.982, 0.97, 0.96, 0.955, 0.952, 0.948, 0.94, 0.928,
                 0.915, 0.888, 0.858, 0.826, 0.79, 0.75, 0.705, 0.655, 0.6, 0.543,
                 0.485, 0.4, 0.32, 0.23, 0.15, 0.105, 0.07, 0.055, 0.048, 0.042,
                 0.04, 0.038, 0.037, 0.036, 0.036, 0.036]
NANO_LINE_SP6 = [None, 0.995, 0.99, 0.99, 0.975, 0.97, 0.96, 0.95, 0.935, 0.915,
                 0.905, 0.88, 0.85, 0.815, 0.775, 0.73, 0.68, 0.625, 0.565, 0.5,
                 0.435, 0.34, 0.25, 0.15, 0.075, 0.043, 0.022, 0.017, 0.015, 0.014,
                 0.014, 0.014, 0.014, 0.014, 0.014, 0.014]
NANO_LINE_SP7 = [None, 0.995, 0.99, 0.985, 0.978, 0.97, 0.962, 0.953, 0.94, 0.922,
                 0.908, 0.882, 0.852, 0.818, 0.778, 0.733, 0.683, 0.628, 0.568, 0.503,
                 0.438, 0.342, 0.25, 0.148, 0.072, 0.04, 0.02, 0.014, 0.012, 0.011,
                 0.011, 0.011, 0.011, 0.011, 0.011, 0.011]
NANO_LINE_SP8 = [None, 0.96, 0.985, 0.985, 0.978, 0.972, 0.965, 0.957, 0.945, 0.93,
                 0.915, 0.89, 0.86, 0.827, 0.79, 0.748, 0.7, 0.648, 0.59, 0.528,
                 0.465, 0.37, 0.275, 0.17, 0.085, 0.045, 0.02, 0.012, 0.01, 0.009,
                 0.0085, 0.0085, 0.0085, 0.0085, 0.0085, 0.0085]
NANO_LINE_SP9 = [None, 1.0, 1.0, 1.0, 0.985, 0.99, 0.97, 0.96, 0.95, 0.935,
                 0.92, 0.892, 0.86, 0.825, 0.787, 0.744, 0.696, 0.643, 0.585, 0.522,
                 0.458, 0.362, 0.268, 0.162, 0.078, 0.038, 0.014, 0.007, 0.005, 0.004,
                 0.0035, 0.0032, 0.0032, 0.0032, 0.0032, 0.0032]

MICRO_PTS = [MICRO_PTS_SP0, MICRO_PTS_SP1, MICRO_PTS_SP2, MICRO_PTS_SP3, MICRO_PTS_SP4,
             MICRO_PTS_SP5, MICRO_PTS_SP6, MICRO_PTS_SP7, MICRO_PTS_SP8, MICRO_PTS_SP9]
NANO_PTS = [NANO_PTS_SP0, NANO_PTS_SP1, NANO_PTS_SP2, NANO_PTS_SP3, NANO_PTS_SP4,
            NANO_PTS_SP5, NANO_PTS_SP6, NANO_PTS_SP7, NANO_PTS_SP8, NANO_PTS_SP9]
MICRO_LINES = [MICRO_LINE_SP0, MICRO_LINE_SP1, MICRO_LINE_SP2, MICRO_LINE_SP3, MICRO_LINE_SP4,
               MICRO_LINE_SP5, MICRO_LINE_SP6, MICRO_LINE_SP7, MICRO_LINE_SP8, MICRO_LINE_SP9]
NANO_LINES = [NANO_LINE_SP0, NANO_LINE_SP1, NANO_LINE_SP2, NANO_LINE_SP3, NANO_LINE_SP4,
              NANO_LINE_SP5, NANO_LINE_SP6, NANO_LINE_SP7, NANO_LINE_SP8, NANO_LINE_SP9]

FONT = "Liberation Sans, Arial, Helvetica, sans-serif"

fig = go.Figure()


def add_panel(xa, ya, pts, lines, line_r, thresh, smooth):
    for i, ys in enumerate(pts):
        fig.add_trace(go.Scatter(
            x=R_POINTS, y=ys, mode="markers", xaxis=xa, yaxis=ya,
            marker=dict(symbol="circle-open", size=8.5, color=COLORS[i],
                        line=dict(width=1.3, color=COLORS[i])),
            showlegend=False, hoverinfo="skip"))
    for i, ys in enumerate(lines):
        fig.add_trace(go.Scatter(
            x=line_r, y=ys, mode="lines", xaxis=xa, yaxis=ya,
            line=dict(color=COLORS[i], width=1.1,
                      shape="spline" if smooth else "linear", smoothing=0.6),
            connectgaps=False, showlegend=False, hoverinfo="skip"))
    fig.add_trace(go.Scatter(
        x=[thresh, thresh], y=[-0.04, 1.04], mode="lines", xaxis=xa, yaxis=ya,
        line=dict(color="black", width=3.2, dash="12px,9px"),
        showlegend=False, hoverinfo="skip"))


add_panel("x", "y", MICRO_PTS, MICRO_LINES, LINE_R_MICRO, THRESH_MICRO, True)
add_panel("x2", "y2", NANO_PTS, NANO_LINES, LINE_R_NANO, THRESH_NANO, False)

ydom = [(H - 593) / H, (H - 65) / H]


def xaxis(dom, anchor):
    return dict(domain=dom, anchor=anchor, type="log", range=[-4.165, 0.165],
                tickmode="array", tickvals=XTICK_VALS, ticktext=XTICK_TEXT,
                ticks="inside", ticklen=8, tickwidth=1, tickcolor="black",
                showline=True, linecolor="black", linewidth=1, mirror=True,
                showgrid=False, zeroline=False, ticklabelstandoff=9,
                tickfont=dict(family=FONT, size=23, color="black"),
                minor=dict(ticks="inside", ticklen=4, tickwidth=1, tickcolor="black",
                           dtick="D1", showgrid=False))


def yaxis(anchor):
    return dict(domain=ydom, anchor=anchor, range=[-0.04, 1.04],
                tickmode="array", tickvals=YTICK_VALS, ticktext=YTICK_TEXT,
                ticks="inside", ticklen=8, tickwidth=1, tickcolor="black",
                showline=True, linecolor="black", linewidth=1, mirror=True,
                showgrid=False, zeroline=False, tickangle=-90, ticklabelstandoff=9,
                tickfont=dict(family=FONT, size=23, color="black"))


annotations = []


def ann(text, px, py, size, bold=False, angle=0, xanchor="center"):
    annotations.append(dict(
        text=("<b>%s</b>" % text) if bold else text, x=px / W, y=1 - py / H,
        xref="paper", yref="paper", showarrow=False, xanchor=xanchor, yanchor="middle",
        textangle=angle, font=dict(family=FONT, size=size, color="black")))


ann("a", 104, 27, 20, bold=True)
ann("Micro", 331, 27, 20, bold=True)
ann("b", 737, 27, 20, bold=True)
ann("Nano", 963, 27, 20, bold=True)
ann("dominance", 30, 329, 30, angle=-90)
ann("r", 331, 650, 29)
ann("r", 963, 650, 29)

shapes = []
for i, lab in enumerate(LEGEND_LABELS):
    cy = 398 + 19.55 * i
    cx = 116
    rr = 4.3
    shapes.append(dict(type="circle", xref="paper", yref="paper",
                       x0=(cx - rr) / W, x1=(cx + rr) / W,
                       y0=1 - (cy + rr) / H, y1=1 - (cy - rr) / H,
                       line=dict(color=COLORS[i], width=2)))
    ann(lab, 145, cy, 16, xanchor="left")

shapes.append(dict(type="line", xref="paper", yref="paper",
                   x0=1053 / W, x1=1083 / W, y0=1 - 84 / H, y1=1 - 84 / H,
                   line=dict(color="black", width=2)))
shapes.append(dict(type="circle", xref="paper", yref="paper",
                   x0=(1068 - 4) / W, x1=(1068 + 4) / W,
                   y0=1 - (105 + 4) / H, y1=1 - (105 - 4) / H,
                   line=dict(color="black", width=2.2)))
ann("U \u03c4 / 3 = 0", 1097, 84, 16, xanchor="left")
ann("U \u03c4 / 3 = 0.5", 1097, 105, 16, xanchor="left")

fig.update_layout(
    width=W, height=H, margin=dict(l=0, r=0, t=0, b=0),
    paper_bgcolor="white", plot_bgcolor="white",
    xaxis=xaxis([96 / W, 567 / W], "y"), yaxis=yaxis("x"),
    xaxis2=xaxis([732 / W, 1195 / W], "y2"), yaxis2=yaxis("x2"),
    annotations=annotations, shapes=shapes, showlegend=False,
    font=dict(family=FONT, color="black"))

fig.write_html("out.html")
